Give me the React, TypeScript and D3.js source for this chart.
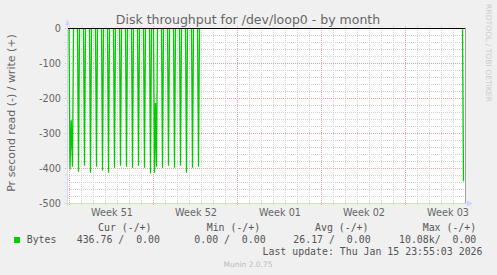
import React from "react";
import * as d3 from "d3";

// hours since Mon 2025-12-15 00:00, and read throughput values (bytes/s, shown negative)
const sampleHours = [2, 4.5, 7, 19, 31, 43, 55, 67, 79, 91, 103, 115, 127, 139, 151, 163, 171, 173, 175, 187, 199, 211, 223, 235, 247, 259, 789];
const sampleValues = [403, 262, 395, 409, 392, 412, 395, 406, 412, 398, 392, 395, 398, 392, 398, 414, 412, 213, 395, 398, 392, 398, 392, 412, 398, 395, 436.76];

const yTicks = [0, -100, -200, -300, -400, -500];
const weekStartHours = [0, 168, 336, 504, 672];
const weekLabelHours = [84, 252, 420, 588, 756];
const weekLabels = ["Week 51", "Week 52", "Week 01", "Week 02", "Week 03"];

const legendHeaders = ["Cur (-/+)", "Min (-/+)", "Avg (-/+)", "Max (-/+)"];
const legendValues = ["436.76 /  0.00", "0.00 /  0.00", "26.17 /  0.00", "10.08k/  0.00"];
const seriesName = "Bytes";
const lastUpdate = "Last update: Thu Jan 15 23:55:03 2026";

const W = 497;
const H = 275;
const L = 67, R = 465, T = 28, B = 203.5;

export default function App() {
  const x = d3.scaleLinear().domain([-4, 792]).range([L, R]);
  const y = d3.scaleLinear().domain([-500, 0]).range([B, T + 0.5]);

  const minorY = d3.range(-480, 0, 20).filter((v) => v % 100 !== 0);
  const minorX = d3.range(24, 792, 24).filter((h) => h % 168 !== 0);

  // build spike groups with zero padding
  const groups: [number, number][][] = [];
  let cur: [number, number][] = [];
  sampleHours.forEach((h, i) => {
    const prev = i > 0 ? sampleHours[i - 1] : -Infinity;
    if (h - prev > 3) {
      if (cur.length) {
        const last = cur[cur.length - 1][0];
        cur.push([last + 2, 0]);
        groups.push(cur);
      }
      cur = [[h - 2, 0]];
    }
    cur.push([h, sampleValues[i]]);
  });
  if (cur.length) groups.push(cur);

  const line = d3
    .line<[number, number]>()
    .x((d) => x(d[0]))
    .y((d) => y(-d[1]));

  const axisColor = "#CFD6F8";
  const font = "DejaVu Sans, sans-serif";
  const mono = "DejaVu Sans Mono, monospace";
  const legendX = [98, 206.7, 315, 422.7];
  const valueX = [76.7, 194.3, 293.3, 399];

  return (
    <svg width={W} height={H} style={{ position: "absolute", left: 0, top: 0 }}>
      <rect x={0} y={0} width={W} height={H} fill="#F0F0F0" />
      <rect x={L} y={T} width={R - L} height={B - T} fill="#FFFFFF" />
      <defs>
        <clipPath id="plot">
          <rect x={L} y={T} width={R - L} height={B - T} />
        </clipPath>
      </defs>

      {/* minor grid */}
      {minorY.map((v) => (
        <line key={"my" + v} x1={L - 2} x2={R + 2} y1={y(v)} y2={y(v)} stroke="#d0d0d0" strokeDasharray="1,1" />
      ))}
      {minorX.map((h) => (
        <line key={"mx" + h} x1={x(h) + 0.5} x2={x(h) + 0.5} y1={T - 2} y2={B + 2} stroke="#d0d0d0" strokeDasharray="1,1" />
      ))}
      {/* major grid */}
      {yTicks.map((v) => (
        <line key={"My" + v} x1={L - 2} x2={R + 2} y1={y(v)} y2={y(v)} stroke="#eca0a0" strokeDasharray="1,1" />
      ))}
      {weekStartHours.map((h) => (
        <line key={"Mx" + h} x1={x(h) + 0.5} x2={x(h) + 0.5} y1={T - 2} y2={B + 2} stroke="#eca0a0" strokeDasharray="1,1" />
      ))}

      {/* data */}
      <g clipPath="url(#plot)">
        {groups.map((g, i) => (
          <path key={i} d={line(g) || ""} fill="none" stroke="#00CC00" strokeWidth={1.3} />
        ))}
      </g>

      {/* zero line and right marker */}
      <line x1={L} x2={R} y1={y(0)} y2={y(0)} stroke="#000000" />
      <line x1={R + 0.5} x2={R + 0.5} y1={T} y2={B} stroke="#a0a0a0" />

      {/* axes */}
      <line x1={L + 0.5} x2={L + 0.5} y1={B + 2} y2={23} stroke={axisColor} />
      <line x1={L - 3} x2={R + 3} y1={B} y2={B} stroke={axisColor} />
      <path d={`M${L - 2},${25} L${L + 3},${25} L${L + 0.5},${19} Z`} fill={axisColor} />
      <path d={`M${R + 2},${B - 3} L${R + 2},${B + 3} L${R + 8},${B} Z`} fill={axisColor} />

      {/* y tick labels */}
      {yTicks.map((v) => (
        <text key={"yl" + v} x={61} y={y(v)} dy="0.35em" textAnchor="end" fontFamily={font} fontSize={9.7} fill="#666666">
          {v}
        </text>
      ))}
      {/* x labels */}
      {weekLabelHours.map((h, i) => (
        <text key={"xl" + h} x={x(h) + 1} y={216} textAnchor="middle" fontFamily={font} fontSize={9.7} fill="#666666">
          {weekLabels[i]}
        </text>
      ))}

      {/* title */}
      <text x={248} y={23.5} textAnchor="middle" fontFamily={font} fontSize={12.5} fill="#666666">
        Disk throughput for /dev/loop0 - by month
      </text>
      {/* y label */}
      <text transform={`translate(15,113) rotate(-90)`} textAnchor="middle" fontFamily={font} fontSize={11} fill="#666666">
        Pr second read (-) / write (+)
      </text>
      {/* watermark */}
      <text transform={`translate(485.5,53) rotate(90)`} textAnchor="middle" fontFamily={font} fontSize={7.6} fill="#cccccc">
        RRDTOOL / TOBI OETIKER
      </text>

      {/* legend */}
      {legendHeaders.map((t, i) => (
        <text key={"lh" + i} x={legendX[i]} y={230.5} fontFamily={mono} fontSize={9.9} fill="#555555" style={{ whiteSpace: "pre" }}>
          {t}
        </text>
      ))}
      <rect x={14} y={237} width={6} height={6} fill="#00CC00" />
      <text x={26.7} y={243} fontFamily={mono} fontSize={9.9} fill="#555555">
        {seriesName}
      </text>
      {legendValues.map((t, i) => (
        <text key={"lv" + i} x={valueX[i]} y={243} fontFamily={mono} fontSize={9.9} fill="#555555" style={{ whiteSpace: "pre" }}>
          {t}
        </text>
      ))}
      <text x={482.5} y={255} textAnchor="end" fontFamily={mono} fontSize={9.9} fill="#555555" style={{ whiteSpace: "pre" }}>
        {lastUpdate}
      </text>
      <text x={248} y={266.5} textAnchor="middle" fontFamily={font} fontSize={7.5} fill="#bbbbbb">
        Munin 2.0.75
      </text>
    </svg>
  );
}
